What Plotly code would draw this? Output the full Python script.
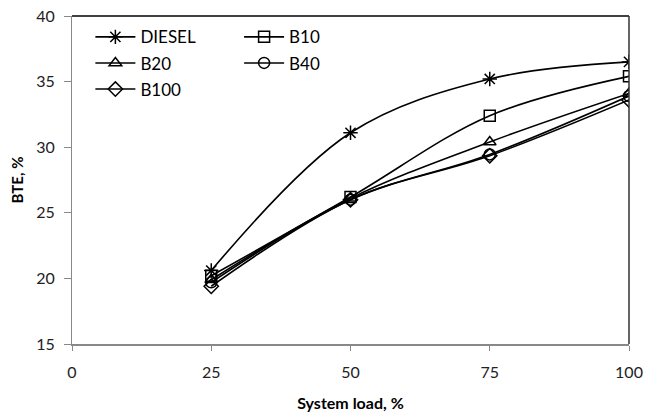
import plotly.graph_objects as go

loads = [25, 50, 75, 100]
diesel = [20.6, 31.1, 35.2, 36.5]
b10 = [20.2, 26.2, 32.4, 35.4]
b20 = [19.9, 26.1, 30.4, 34.1]
b40 = [19.7, 26.0, 29.45, 33.9]
b100 = [19.4, 26.0, 29.35, 33.6]

series = [
    ("DIESEL", diesel, "asterisk-open", 12, "legend"),
    ("B10", b10, "square-open", 11, "legend2"),
    ("B20", b20, "triangle-up-open", 11, "legend"),
    ("B40", b40, "circle-open", 11, "legend2"),
    ("B100", b100, "diamond-open", 11, "legend"),
]

FONT = "Lato"
fig = go.Figure()
for name, vals, sym, size, leg in series:
    fig.add_trace(go.Scatter(
        x=loads, y=vals, name=name, mode="lines+markers",
        line=dict(color="black", width=1.6, shape="spline", smoothing=1.0),
        marker=dict(symbol=sym, size=size, color="black", line=dict(width=1.5, color="black")),
        legend=leg, legendgroup=name,
    ))

legcommon = dict(font=dict(family=FONT, size=17, color="black"), bgcolor="rgba(0,0,0,0)",
                 traceorder="grouped", tracegroupgap=1, itemwidth=40,
                 yanchor="top", xanchor="left")
fig.update_layout(
    width=646, height=412,
    margin=dict(l=72, r=17, t=16, b=68),
    paper_bgcolor="white", plot_bgcolor="white",
    font=dict(family=FONT, size=16, color="#222"),
    legend=dict(x=0.033, y=0.99, **legcommon),
    legend2=dict(x=0.30, y=0.99, **legcommon),
    xaxis=dict(range=[0, 100], tickvals=[0, 25, 50, 75, 100], showgrid=False, zeroline=False,
               showline=True, linecolor="#888", linewidth=1.5, ticks="outside", ticklen=5,
               tickcolor="#888", ticklabelstandoff=8, automargin=False,
               title=dict(text="<b>System load, %</b>", font=dict(family=FONT, size=16, color="black"), standoff=19)),
    yaxis=dict(range=[15, 40], tickvals=[15, 20, 25, 30, 35, 40], showgrid=False, zeroline=False,
               showline=True, linecolor="#888", linewidth=1.2, ticks="outside", ticklen=7,
               tickcolor="#888", ticklabelstandoff=6, automargin=False,
               title=dict(text="<b>BTE, %</b>", font=dict(family=FONT, size=15, color="black"), standoff=8)),
)
fig.add_shape(type="line", xref="paper", yref="paper", x0=0, x1=1, y0=1, y1=1,
              line=dict(color="black", width=1.5))
fig.add_shape(type="line", xref="paper", yref="paper", x0=1, x1=1, y0=0, y1=1,
              line=dict(color="#333", width=1.5))
fig.write_html("out.html")
